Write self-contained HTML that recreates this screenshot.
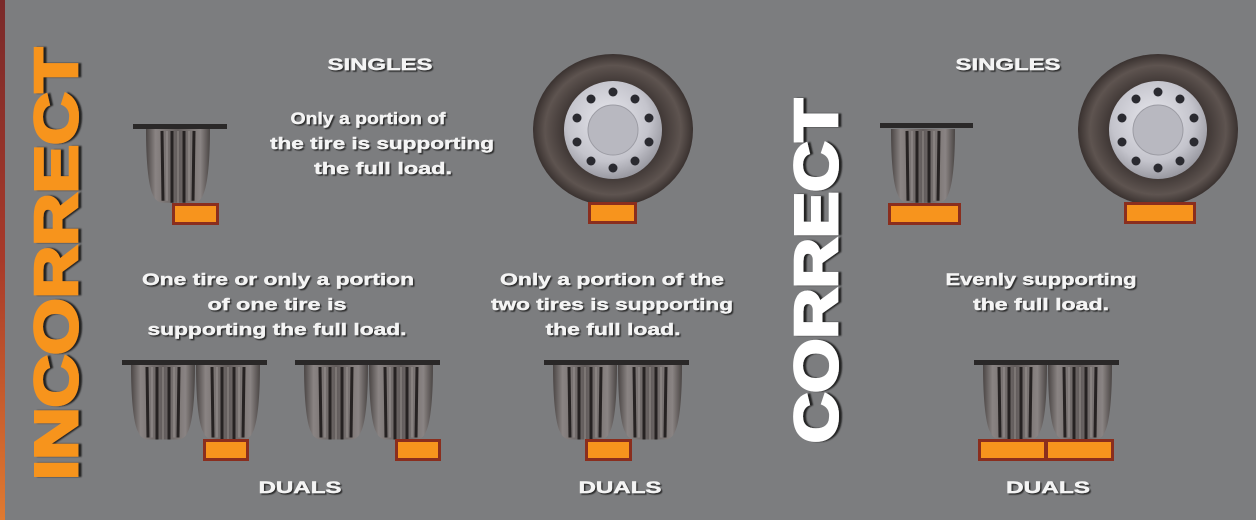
<!DOCTYPE html>
<html><head><meta charset="utf-8"><style>
html,body{margin:0;padding:0;background:#7c7d7f;}
svg{display:block}
.t{font-family:"Liberation Sans",sans-serif;font-weight:bold;fill:#f4f4f4;font-size:17px;text-anchor:middle;stroke:#f4f4f4;stroke-width:0.4}
</style></head><body>
<svg width="1256" height="520" viewBox="0 0 1256 520" xmlns="http://www.w3.org/2000/svg">
<defs>
<linearGradient id="edge" x1="0" y1="0" x2="0" y2="1">
<stop offset="0" stop-color="#7a2a2a"/><stop offset="0.5" stop-color="#a83a2a"/><stop offset="1" stop-color="#e07a30"/></linearGradient>
<linearGradient id="tg" x1="0" y1="0" x2="1" y2="0">
<stop offset="0" stop-color="#4a4544"/><stop offset="0.15" stop-color="#8a8483"/><stop offset="0.5" stop-color="#625c5b"/><stop offset="0.85" stop-color="#8a8483"/><stop offset="1" stop-color="#4a4544"/></linearGradient>
<radialGradient id="rim" cx="0.45" cy="0.4" r="0.6">
<stop offset="0" stop-color="#e8e8ee"/><stop offset="0.7" stop-color="#c4c4cc"/><stop offset="1" stop-color="#9a9aa2"/></radialGradient>
<radialGradient id="rub" cx="0.5" cy="0.5" r="0.5">
<stop offset="0.6" stop-color="#3e3634"/><stop offset="0.85" stop-color="#5e5450"/><stop offset="1" stop-color="#3a3230"/></radialGradient>
<g id="tire">
<path d="M0,0 H64 C64,30 62,58 57,68 Q54,76 46,76 H18 Q10,76 7,68 C2,58 0,30 0,0Z" fill="url(#tg)"/>
<g stroke="#262222" stroke-width="3">
<line x1="16" y1="2" x2="17" y2="74"/><line x1="26" y1="2" x2="26" y2="76"/><line x1="38" y1="2" x2="38" y2="76"/><line x1="48" y1="2" x2="47" y2="74"/></g>
<g stroke="#a8a2a0" stroke-width="1.2" opacity="0.6">
<line x1="21" y1="2" x2="21" y2="74"/><line x1="32" y1="2" x2="32" y2="76"/><line x1="43" y1="2" x2="43" y2="74"/></g>
</g>
<g id="wheel">
<ellipse cx="0" cy="0" rx="80" ry="76" fill="url(#rub)"/>
<circle r="49" fill="url(#rim)"/>
<circle r="25" fill="#b8b8c0" stroke="#9c9ca4"/>
<g fill="#2a2a30">
<circle cx="0" cy="-38" r="4.5"/><circle cx="22" cy="-31" r="4.5"/><circle cx="36" cy="-12" r="4.5"/><circle cx="36" cy="12" r="4.5"/><circle cx="22" cy="31" r="4.5"/><circle cx="0" cy="38" r="4.5"/><circle cx="-22" cy="31" r="4.5"/><circle cx="-36" cy="12" r="4.5"/><circle cx="-36" cy="-12" r="4.5"/><circle cx="-22" cy="-31" r="4.5"/></g>
</g>
<filter id="sh"><feDropShadow dx="1.5" dy="1.5" stdDeviation="0.6" flood-color="#222" flood-opacity="0.9"/></filter>
<filter id="sh2"><feDropShadow dx="0" dy="3" stdDeviation="0.8" flood-color="#1a1a1a" flood-opacity="0.95"/></filter>
</defs>
<rect width="1256" height="520" fill="#7c7d7f"/>
<rect x="0" y="0" width="5" height="520" fill="url(#edge)"/>

<text transform="translate(77,480) rotate(-90)" font-family="Liberation Sans,sans-serif" font-weight="bold" font-size="60" fill="#f7941d" stroke="#f7941d" stroke-width="3" textLength="432" lengthAdjust="spacingAndGlyphs" filter="url(#sh2)">INCORRECT</text>
<text transform="translate(837,443) rotate(-90)" font-family="Liberation Sans,sans-serif" font-weight="bold" font-size="60" fill="#ffffff" stroke="#ffffff" stroke-width="3" textLength="344" lengthAdjust="spacingAndGlyphs" filter="url(#sh2)">CORRECT</text>

<g filter="url(#sh)">
<text class="t" x="380" y="70" textLength="105" lengthAdjust="spacingAndGlyphs">SINGLES</text>
<text class="t" x="1008" y="70" textLength="105" lengthAdjust="spacingAndGlyphs">SINGLES</text>
<text class="t" x="300" y="493" textLength="83" lengthAdjust="spacingAndGlyphs">DUALS</text>
<text class="t" x="620" y="493" textLength="83" lengthAdjust="spacingAndGlyphs">DUALS</text>
<text class="t" x="1048" y="493" textLength="84" lengthAdjust="spacingAndGlyphs">DUALS</text>
<text class="t" x="368" y="124" textLength="155" lengthAdjust="spacingAndGlyphs">Only a portion of</text>
<text class="t" x="382" y="149" textLength="224" lengthAdjust="spacingAndGlyphs">the tire is supporting</text>
<text class="t" x="383" y="174" textLength="138" lengthAdjust="spacingAndGlyphs">the full load.</text>
<text class="t" x="278" y="285" textLength="272" lengthAdjust="spacingAndGlyphs">One tire or only a portion</text>
<text class="t" x="277" y="310" textLength="139" lengthAdjust="spacingAndGlyphs">of one tire is</text>
<text class="t" x="277" y="335" textLength="259" lengthAdjust="spacingAndGlyphs">supporting the full load.</text>
<text class="t" x="612" y="285" textLength="224" lengthAdjust="spacingAndGlyphs">Only a portion of the</text>
<text class="t" x="612" y="310" textLength="242" lengthAdjust="spacingAndGlyphs">two tires is supporting</text>
<text class="t" x="613" y="335" textLength="135" lengthAdjust="spacingAndGlyphs">the full load.</text>
<text class="t" x="1041" y="285" textLength="191" lengthAdjust="spacingAndGlyphs">Evenly supporting</text>
<text class="t" x="1041" y="310" textLength="136" lengthAdjust="spacingAndGlyphs">the full load.</text>
</g>

<use href="#tire" transform="translate(146,129) scale(1,0.97)"/>
<rect x="133" y="124" width="94" height="5" fill="#2a2828"/>
<rect x="173.5" y="204.5" width="44" height="19" fill="#f7941d" stroke="#8a2e1e" stroke-width="3"/>

<use href="#wheel" transform="translate(613,130)"/>
<rect x="589.5" y="203.5" width="46" height="19" fill="#f7941d" stroke="#8a2e1e" stroke-width="3"/>

<use href="#tire" transform="translate(891,129) scale(1,0.97)"/>
<rect x="880" y="123" width="93" height="5" fill="#2a2828"/>
<rect x="889.5" y="204.5" width="70" height="19" fill="#f7941d" stroke="#8a2e1e" stroke-width="3"/>

<use href="#wheel" transform="translate(1158,130)"/>
<rect x="1125.5" y="203.5" width="69" height="19" fill="#f7941d" stroke="#8a2e1e" stroke-width="3"/>

<g transform="translate(122,0)">
<use href="#tire" transform="translate(9,365) scale(1,0.98)"/>
<use href="#tire" transform="translate(74,365) scale(1,0.98)"/>
<rect x="0" y="360" width="145" height="5" fill="#2a2828"/>
</g>
<rect x="204.5" y="440.5" width="43" height="19" fill="#f7941d" stroke="#8a2e1e" stroke-width="3"/>

<g transform="translate(295,0)">
<use href="#tire" transform="translate(9,365) scale(1,0.98)"/>
<use href="#tire" transform="translate(74,365) scale(1,0.98)"/>
<rect x="0" y="360" width="145" height="5" fill="#2a2828"/>
</g>
<rect x="396.5" y="440.5" width="43" height="19" fill="#f7941d" stroke="#8a2e1e" stroke-width="3"/>

<g transform="translate(544,0)">
<use href="#tire" transform="translate(9,365) scale(1,0.98)"/>
<use href="#tire" transform="translate(74,365) scale(1,0.98)"/>
<rect x="0" y="360" width="145" height="5" fill="#2a2828"/>
</g>
<rect x="586.5" y="440.5" width="44" height="19" fill="#f7941d" stroke="#8a2e1e" stroke-width="3"/>

<g transform="translate(974,0)">
<use href="#tire" transform="translate(9,365) scale(1,0.98)"/>
<use href="#tire" transform="translate(74,365) scale(1,0.98)"/>
<rect x="0" y="360" width="145" height="5" fill="#2a2828"/>
</g>
<rect x="979.5" y="440.5" width="66" height="19" fill="#f7941d" stroke="#8a2e1e" stroke-width="3"/>
<rect x="1046.5" y="440.5" width="66" height="19" fill="#f7941d" stroke="#8a2e1e" stroke-width="3"/>
</svg>
</body></html>
